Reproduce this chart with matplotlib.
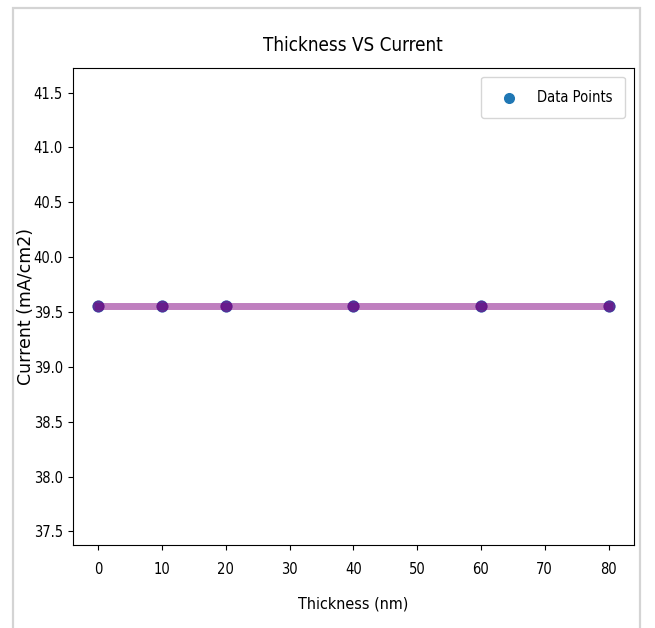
import matplotlib
matplotlib.use("Agg")
import matplotlib.pyplot as plt
from matplotlib.patches import Rectangle

# Measured current density for each layer thickness
thickness_nm = [0, 10, 20, 40, 60, 80]
current_mA_cm2 = [39.55, 39.55, 39.55, 39.55, 39.55, 39.55]

plt.rcParams["font.family"] = ["DejaVu Sans"]
plt.rcParams["font.stretch"] = "condensed"

fig = plt.figure(figsize=(6.55, 6.28), dpi=100)
ax = fig.add_axes([0.111, 0.132, 0.857, 0.760])

ax.scatter(thickness_nm, current_mA_cm2, s=60, color="C0", label="Data Points", zorder=2)
ax.plot(thickness_nm, current_mA_cm2, color="purple", alpha=0.5, linewidth=5,
        marker="o", markersize=7.5, zorder=3)

ax.set_title("Thickness VS Current", fontsize=13.5, pad=12)
ax.set_xlabel("Thickness (nm)", fontsize=11.5, labelpad=14)
ax.set_ylabel("Current (mA/cm2)", fontsize=12.5, fontstretch="normal")
ax.yaxis.set_label_coords(-0.068, 0.5)
ax.tick_params(axis="y", labelsize=10.5, pad=3.5)
ax.tick_params(axis="x", labelsize=10.5, pad=9)
ax.legend(loc="upper right", fontsize=10.5, borderpad=0.9, handletextpad=0.9,
          borderaxespad=0.6, markerscale=0.9)

# light frame around the whole figure
fig.patches.append(Rectangle((13 / 655, -0.05), (640 - 13) / 655, 1.05 - 8 / 628,
                             transform=fig.transFigure, fill=False,
                             edgecolor="#d4d4d4", linewidth=1.6))

fig.savefig("out.png", dpi=100)
